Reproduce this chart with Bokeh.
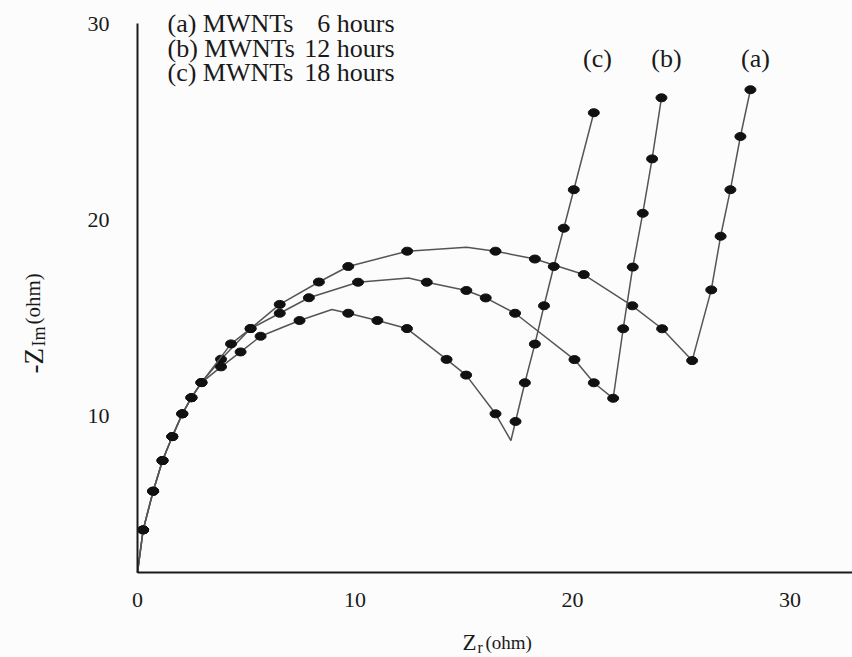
import math
from bokeh.plotting import figure
from bokeh.models import Label, Range1d, FixedTicker
from bokeh.embed import file_html
from bokeh.resources import INLINE

# ---- data (Z_r, -Z_im in ohm); marked = drawn with a dot ----
a_x = [0.00, 0.26, 0.72, 1.15, 1.60, 2.06, 2.48, 2.94, 3.84, 5.20, 6.54, 8.34, 9.69,
       12.40, 15.13, 16.46, 18.27, 20.52, 22.75, 24.12, 25.50, 26.38, 26.81, 27.26,
       27.72, 28.18]
a_y = [2.05, 4.22, 6.19, 7.75, 8.97, 10.13, 10.95, 11.72, 12.91, 14.47, 15.70, 16.84,
       17.63, 18.41, 18.61, 18.41, 18.01, 17.22, 15.63, 14.46, 12.84, 16.44, 19.17,
       21.54, 24.25, 26.63]
a_marked = [0, 1, 1, 1, 1, 1, 1, 1, 1, 1, 1, 1, 1, 1, 0, 1, 1, 1, 1, 1, 1, 1, 1, 1, 1, 1]

b_x = [0.00, 0.26, 0.72, 1.15, 1.60, 2.06, 2.48, 2.94, 4.30, 5.20, 6.54, 7.88, 10.14,
       12.46, 13.30, 15.12, 16.01, 17.36, 20.09, 20.98, 21.87, 22.33, 22.77, 23.23,
       23.66, 24.09]
b_y = [2.05, 4.22, 6.19, 7.75, 8.97, 10.13, 10.95, 11.72, 13.69, 14.47, 15.25, 16.04,
       16.83, 17.04, 16.83, 16.41, 16.03, 15.25, 12.89, 11.71, 10.92, 14.46, 17.60,
       20.34, 23.11, 26.22]
b_marked = [0, 1, 1, 1, 1, 1, 1, 1, 1, 1, 1, 1, 1, 0, 1, 1, 1, 1, 1, 1, 1, 1, 1, 1, 1, 1]

c_x = [0.00, 0.26, 0.72, 1.15, 1.60, 2.06, 2.48, 2.94, 3.84, 4.74, 5.66, 7.45, 8.94,
       9.69, 11.03, 12.39, 14.21, 15.11, 16.46, 17.17, 17.38, 17.81, 18.27, 18.69,
       19.14, 19.60, 20.06, 20.98]
c_y = [2.05, 4.22, 6.19, 7.75, 8.97, 10.13, 10.95, 11.72, 12.52, 13.28, 14.08, 14.88,
       15.44, 15.25, 14.88, 14.47, 12.90, 12.10, 10.13, 8.77, 9.74, 11.71, 13.68,
       15.63, 17.63, 19.58, 21.54, 25.46]
c_marked = [0, 1, 1, 1, 1, 1, 1, 1, 1, 1, 1, 1, 0, 1, 1, 1, 1, 1, 1, 0, 1, 1, 1, 1, 1, 1, 1, 1]

series_tags = ["(a)", "(b)", "(c)"]
legend_names = ["(a) MWNTs", "(b) MWNTs", "(c) MWNTs"]
legend_times = ["6 hours", "12 hours", "18 hours"]
x_ticks = [0, 10, 20, 30]
y_ticks = [10, 20, 30]

# ---- layout (pixel geometry of the page) ----
W, H = 852, 657
OX, OY = 137, 572          # pixel position of the axes corner
XPX, YPX = 21.75, 19.64    # pixels per ohm
YBASE = 2.05               # value at the x axis
YTOP = 29.9                # value at the top of the y axis line
FONT = "Liberation Serif"
INK = "#1a1a1a"

def px2x(px):
    return (px - OX) / XPX

def px2y(py):
    return YBASE + (OY - py) / YPX

p = figure(width=W, height=H, output_backend="svg", toolbar_location=None,
           x_range=Range1d(px2x(0), px2x(W)), y_range=Range1d(px2y(H), px2y(0)),
           min_border=0)
p.background_fill_color = "#fcfcfc"
p.border_fill_color = "#fcfcfc"
p.outline_line_color = None
p.xgrid.visible = False
p.ygrid.visible = False

p.xaxis.fixed_location = YBASE
p.xaxis.bounds = (0, px2x(W))
p.yaxis.fixed_location = 0
p.yaxis.bounds = (YBASE, max(YTOP, 30.0))

for ax, ticks, standoff in ((p.xaxis, x_ticks, 20), (p.yaxis, y_ticks, 28)):
    ax.ticker = FixedTicker(ticks=ticks)
    ax.axis_line_width = 2
    ax.axis_line_color = INK
    ax.major_tick_line_color = None
    ax.minor_tick_line_color = None
    ax.major_tick_in = 0
    ax.major_tick_out = 0
    ax.major_label_standoff = standoff
    ax.major_label_text_font = FONT
    ax.major_label_text_font_size = "22px"
    ax.major_label_text_color = INK

for xs, ys, mk in ((a_x, a_y, a_marked), (b_x, b_y, b_marked), (c_x, c_y, c_marked)):
    p.line(xs, ys, line_color="#555555", line_width=1.5)
    mx = [x for x, m in zip(xs, mk) if m]
    my = [y for y, m in zip(ys, mk) if m]
    p.ellipse(mx, my, width=11, height=8, width_units="screen", height_units="screen",
              fill_color="#111111", line_color="#111111")

def add_label(text, px, py, size, align="left", baseline="middle", angle=0.0):
    p.add_layout(Label(x=px2x(px), y=px2y(py), text=text, text_font=FONT,
                       text_font_size=size, text_color=INK, text_align=align,
                       text_baseline=baseline, angle=angle))

# legend block (top-left)
for i, (nm, tm) in enumerate(zip(legend_names, legend_times)):
    yy = 23 + 24.5 * i
    add_label(nm, 167, yy, "26px")
    add_label(tm, 394, yy, "26px", align="right")

# curve tags above the spikes
for tag, cx in zip(series_tags, [755, 666, 597]):
    add_label(tag, cx, 58, "26px", align="center")

# x axis title: Z_r (ohm)
add_label("Z", 462, 642, "23px", baseline="alphabetic")
add_label("r", 477, 647, "16px", baseline="alphabetic")
add_label("(ohm)", 485, 642, "19px", baseline="alphabetic")

# y axis title: -Z_Im (ohm), rotated
add_label("-Z", 33, 373, "27px", baseline="alphabetic", angle=math.pi / 2)
add_label("Im", 38, 346, "18px", baseline="alphabetic", angle=math.pi / 2)
add_label("(ohm)", 32, 324, "21px", baseline="alphabetic", angle=math.pi / 2)

open("out.html", "w").write(file_html(p, INLINE))
